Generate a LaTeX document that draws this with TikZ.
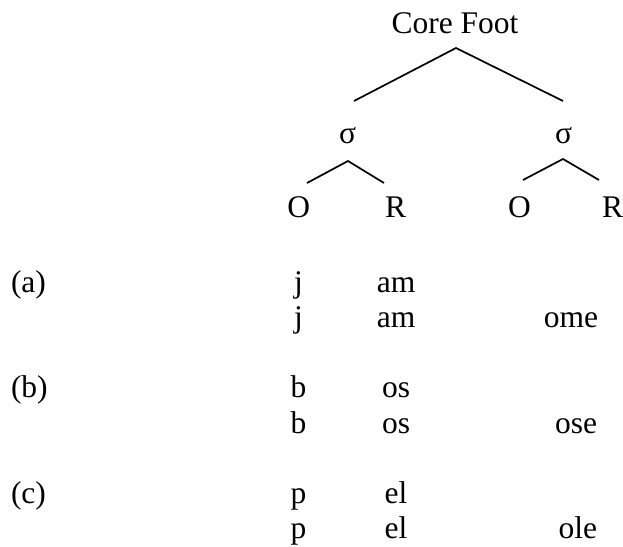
\documentclass[tikz,border=0pt]{standalone}
\usepackage{fontspec}
\setmainfont{Liberation Serif}
\begin{document}
\begin{tikzpicture}[x=1pt,y=-1pt,
  txt/.style={inner sep=0pt, outer sep=0pt, anchor=base, font=\fontsize{31.5}{36}\selectfont},
  txtl/.style={txt, anchor=base west},
  txtr/.style={txt, anchor=base east},
  branch/.style={line width=1.7pt, line cap=butt}]
\useasboundingbox (0,0) rectangle (623,546);
% tree
\node[txt] (cf) at (455,33) {Core Foot};
\node[txt] (s1) at (347.5,143) {σ};
\node[txt] (s2) at (563.5,143) {σ};
\node[txt] (o1) at (298.8,217) {O};
\node[txt] (r1) at (395.5,217) {R};
\node[txt] (o2) at (519.5,217) {O};
\node[txt] (r2) at (612.5,217) {R};
\coordinate (cfa) at (456,48);
\coordinate (cfl) at (354,101);
\coordinate (cfr) at (563,101);
\coordinate (s1a) at (348,161);
\coordinate (s1l) at (307,183);
\coordinate (s1r) at (384,183);
\coordinate (s2a) at (563,159);
\coordinate (s2l) at (523,180);
\coordinate (s2r) at (599,180);
\draw[branch] (cfl) -- (cfa) -- (cfr);
\draw[branch] (s1l) -- (s1a) -- (s1r);
\draw[branch] (s2l) -- (s2a) -- (s2r);
% examples
\node[txtl] (la) at (11,292) {(a)};
\node[txt] (a1o) at (298.5,292) {j};
\node[txt] (a1r) at (396,292) {am};
\node[txt] (a2o) at (298.5,327.5) {j};
\node[txt] (a2r) at (396,327.5) {am};
\node[txtr] (a2s) at (598,327.5) {ome};
\node[txtl] (lb) at (11,397.5) {(b)};
\node[txt] (b1o) at (298.5,397.5) {b};
\node[txt] (b1r) at (396,397.5) {os};
\node[txt] (b2o) at (298.5,433) {b};
\node[txt] (b2r) at (396,433) {os};
\node[txtr] (b2s) at (597,433) {ose};
\node[txtl] (lc) at (11,503) {(c)};
\node[txt] (c1o) at (298.5,503) {p};
\node[txt] (c1r) at (396,503) {el};
\node[txt] (c2o) at (298.5,538.5) {p};
\node[txt] (c2r) at (396,538.5) {el};
\node[txtr] (c2s) at (597,538.5) {ole};
\end{tikzpicture}
\end{document}
